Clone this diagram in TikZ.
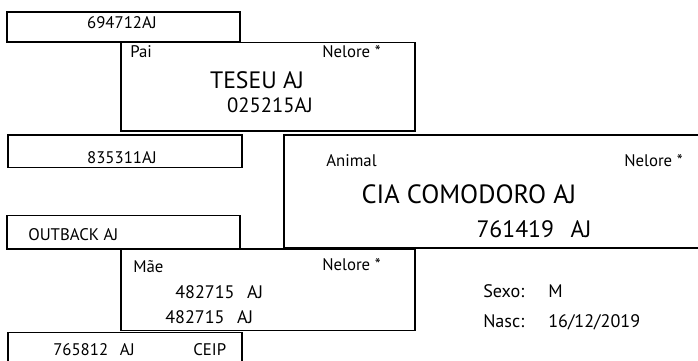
\documentclass[tikz,border=0pt]{standalone}
\usepackage{fontspec}
\setmainfont{PT Sans}
\tikzset{
  box/.style={draw=black,line width=0.9pt},
  mbox/.style={draw=black,line width=1.5pt},
  lab/.style={anchor=base west,inner sep=0pt,font=\fontsize{12.6}{14}\selectfont},
  clab/.style={lab,anchor=base},
  mid/.style={lab,font=\fontsize{13.6}{15}\selectfont},
  big/.style={clab,font=\fontsize{17.8}{19}\selectfont},
}
\newcommand{\gap}[1]{\hspace*{#1}}

\begin{document}
\begin{tikzpicture}[x=0.75pt,y=-0.75pt]
\useasboundingbox (0,0) rectangle (698,360);
\clip (0,0) rectangle (698,360);
% boxes
\draw[box] (121,42.5) rectangle (415,131);
\draw[box] (7,12) rectangle (240,42);
\draw[box] (8,135) rectangle (242,167.5);
\draw[box] (7,215.5) rectangle (240,249);
\draw[mbox] (284,134.5) rectangle (705,247.5);
\draw[box] (121,249) rectangle (415,330.5);
\draw[box] (8,332.5) rectangle (242,370);
% avos paternos
\node[clab] (ppai) at (122,29) {694712AJ};
\node[clab] (mpai) at (122,163) {835311AJ};
% pai
\node[lab] (paiL) at (130,57) {Pai};
\node[lab] (paiR) at (322,57) {Nelore *};
\node[big] (paiN) at (257,88) {TESEU AJ};
\node[clab,font=\fontsize{15.5}{17}\selectfont] (paiR) at (270,112) {025215AJ};
% animal
\node[lab] (aniL) at (326,166) {Animal};
\node[lab] (aniR) at (624,166) {Nelore *};
\node[big,font=\fontsize{19.8}{21}\selectfont] (aniN) at (469,203) {CIA COMODORO AJ};
\node[big] (aniR) at (534,237) {761419\gap{0.7em}AJ};
% avos maternos
\node[lab] (pmae) at (28,240) {OUTBACK AJ};
\node[lab] (mmae) at (53,355) {765812\gap{0.7em}AJ};
\node[lab] (mmaeR) at (193,355) {CEIP};
% mae
\node[lab] (maeL) at (133,272) {Mãe};
\node[lab] (maeR) at (322,270) {Nelore *};
\node[mid] (maeN) at (175,298) {482715\gap{0.7em}AJ};
\node[mid] (maeR) at (165,323) {482715\gap{0.7em}AJ};
% dados
\node[mid] (sexo) at (483,297) {Sexo:};
\node[mid] (sexoV) at (548,297) {M};
\node[mid] (nasc) at (483,327) {Nasc:};
\node[mid] (nascV) at (548,327) {16/12/2019};
\end{tikzpicture}
\end{document}
